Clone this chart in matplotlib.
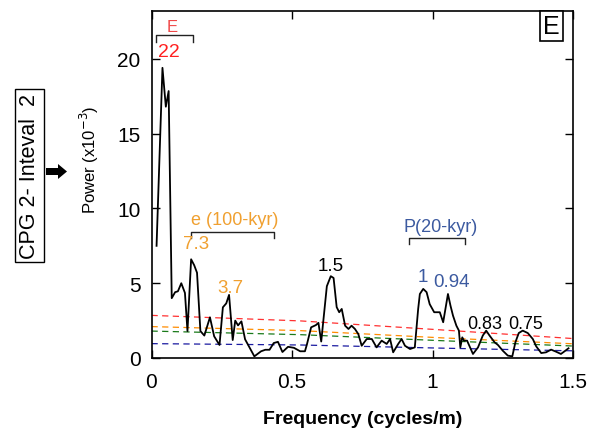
import matplotlib
matplotlib.use("Agg")
import matplotlib.pyplot as plt
from matplotlib.patches import FancyArrowPatch

plt.rcParams['font.family'] = ['Liberation Sans', 'DejaVu Sans']

# Power spectrum of CPG 2, interval 2
freq = [0.018, 0.039, 0.051, 0.061, 0.072, 0.084, 0.094, 0.106, 0.119, 0.128,
        0.141, 0.152, 0.162, 0.174, 0.188, 0.208, 0.223, 0.242, 0.254, 0.266,
        0.276, 0.289, 0.298, 0.308, 0.320, 0.333, 0.366, 0.390, 0.405, 0.420,
        0.435, 0.450, 0.466, 0.486, 0.507, 0.529, 0.546, 0.553, 0.568, 0.585,
        0.594, 0.604, 0.624, 0.638, 0.648, 0.659, 0.668, 0.677, 0.689, 0.701,
        0.712, 0.724, 0.736, 0.748, 0.766, 0.784, 0.801, 0.819, 0.837, 0.849,
        0.860, 0.878, 0.890, 0.902, 0.920, 0.937, 0.949, 0.955, 0.967, 0.979,
        0.990, 1.006, 1.026, 1.038, 1.055, 1.064, 1.073, 1.085, 1.094, 1.099,
        1.106, 1.112, 1.123, 1.144, 1.162, 1.179, 1.191, 1.203, 1.221, 1.233,
        1.250, 1.268, 1.284, 1.295, 1.307, 1.321, 1.339, 1.357, 1.369, 1.387,
        1.404, 1.422, 1.440, 1.457, 1.473, 1.484]
power = [7.5, 19.4, 16.8, 17.85, 4.0, 4.4, 4.46, 5.0, 4.35, 1.8,
         6.6, 6.2, 5.7, 1.8, 1.5, 2.72, 1.45, 0.87, 3.39, 3.65,
         4.22, 1.2, 2.5, 2.18, 2.45, 1.25, 0.11, 0.45, 0.55, 0.55,
         1.0, 1.08, 0.4, 0.75, 0.68, 0.45, 0.45, 0.9, 2.05, 2.2,
         2.35, 1.1, 4.8, 5.47, 5.35, 3.4, 3.06, 3.28, 2.16, 1.94,
         2.16, 1.94, 1.6, 0.82, 1.27, 1.27, 0.71, 1.16, 0.94, 1.27,
         0.38, 0.94, 1.27, 0.82, 0.6, 0.71, 3.28, 4.28, 4.62, 4.4,
         3.6, 3.06, 3.06, 2.39, 4.28, 3.5, 2.83, 2.16, 1.83, 0.71,
         1.38, 1.16, 1.16, 0.27, 0.71, 1.5, 1.83, 1.5, 1.05, 0.87,
         0.49, 0.16, 0.11, 1.05, 1.67, 1.83, 1.67, 1.27, 0.78, 0.33,
         0.38, 0.56, 0.42, 0.27, 0.49, 0.65]

# Confidence levels (red-noise model)
conf_freq = [0.0, 0.53, 1.03, 1.5]
conf_99 = [2.85, 2.48, 1.88, 1.30]
conf_95 = [2.10, 1.83, 1.35, 0.95]
conf_90 = [1.80, 1.56, 1.16, 0.80]
conf_50 = [0.96, 0.87, 0.66, 0.48]

x_ticks = [0, 0.5, 1, 1.5]
x_tick_labels = ['0', '0.5', '1', '1.5']
y_ticks = [0, 5, 10, 15, 20]

fig = plt.figure(figsize=(5.91, 4.31), dpi=100)
ax = fig.add_axes([151.5 / 591, 1 - 359 / 431, (573 - 151.5) / 591, (359 - 12) / 431])

dash = (0, (5, 3.5))
ax.plot(conf_freq, conf_99, color='#ff3030', lw=0.9, ls=dash)
ax.plot(conf_freq, conf_95, color='#ff8c00', lw=0.9, ls=dash)
ax.plot(conf_freq, conf_90, color='#1a7a1a', lw=0.9, ls=dash)
ax.plot(conf_freq, conf_50, color='#1a1aa0', lw=0.9, ls=dash)
ax.plot(freq, power, color='black', lw=1.3)

ax.set_xlim(0, 1.5)
ax.set_ylim(0, 23.2)
ax.set_xticks(x_ticks)
ax.set_xticklabels(x_tick_labels)
ax.set_yticks(y_ticks)
ax.tick_params(direction='in', length=6, width=1.0, labelsize=15,
               top=True, right=True, pad=8)
ax.tick_params(axis='x', pad=10)
for s in ax.spines.values():
    s.set_linewidth(1.2)

ax.set_xlabel('Frequency (cycles/m)', fontsize=14, fontweight='bold', labelpad=14)

red = '#ff2020'
orange = '#f0a030'
blue = '#3c5aa0'


def bracket(x0, x1, y, drop, color='#222222'):
    ax.plot([x0, x0, x1, x1], [y - drop, y, y, y - drop], color=color, lw=1.0,
            clip_on=False)


def label(x, y, s, color, size):
    ax.text(x, y, s, color=color, fontsize=size, ha='center', va='baseline')


# Eccentricity (E) band
label(0.0754, 21.88, 'E', '#f04848', 12)
bracket(0.015, 0.149, 21.6, 0.45)
label(0.063, 20.21, '22', red, 14)

# Short eccentricity band
label(0.297, 8.96, 'e (100-kyr)', orange, 13)
bracket(0.1395, 0.436, 8.40, 0.40)
label(0.158, 7.33, '7.3', orange, 13.5)
label(0.282, 4.43, '3.7', orange, 13.5)

label(0.639, 5.90, '1.5', 'black', 13.5)

# Precession band
label(1.029, 8.51, 'P(20-kyr)', blue, 13)
bracket(0.917, 1.117, 8.02, 0.40)
label(0.967, 5.17, '1', blue, 13.5)
label(1.068, 4.79, '0.94', blue, 13.5)
label(1.187, 2.0, '0.83', 'black', 13)
label(1.333, 2.0, '0.75', 'black', 13)

# Panel letter
ax.text(0.9486, 0.957, 'E', transform=ax.transAxes, fontsize=18, ha='center', va='center',
        bbox=dict(boxstyle='square,pad=0.12', fc='white', ec='black', lw=1.2))

# Y label and side caption
fig.text(89 / 591, 1 - 160 / 431, 'Power (x10$^{-3}$)', rotation=90, fontsize=12,
         ha='center', va='center')
fig.text(29.5 / 591, 1 - 176.5 / 431, 'CPG 2- Inteval  2', rotation=90, fontsize=15.5,
         ha='center', va='center',
         bbox=dict(boxstyle='square,pad=0.18', fc='white', ec='black', lw=1.0))

arrow = FancyArrowPatch((46 / 591, 1 - 172.5 / 431), (67 / 591, 1 - 172.5 / 431),
                        transform=fig.transFigure, shrinkA=0, shrinkB=0,
                        arrowstyle='simple,head_width=0.75,head_length=0.45,tail_width=0.35',
                        mutation_scale=14.4, color='black', lw=0)
fig.patches.append(arrow)

fig.savefig('out.png', dpi=100)
